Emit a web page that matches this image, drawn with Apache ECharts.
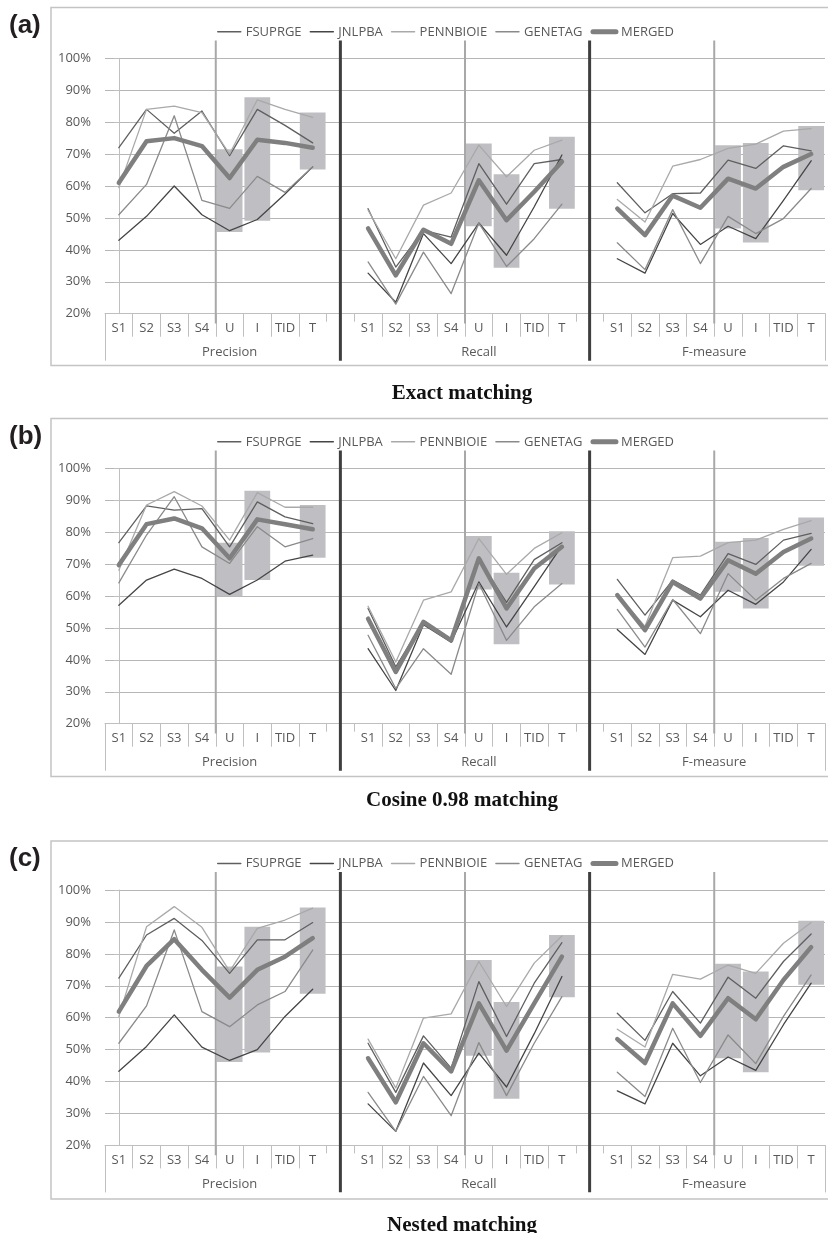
<!DOCTYPE html>
<html>
<head>
<meta charset="utf-8">
<script src="https://cdn.jsdelivr.net/npm/echarts@6/dist/echarts.min.js"></script>
<style>
  html, body { margin: 0; padding: 0; background: #fff; }
  #chart { width: 828px; height: 1233px; }
</style>
</head>
<body>
<div id="chart"></div>
<script>
// categories of one measure group, and the three groups
const subCats = ['S1', 'S2', 'S3', 'S4', 'U', 'I', 'TID', 'T'];
const groupNames = ['Precision', 'Recall', 'F-measure'];
const seriesNames = ['FSUPRGE', 'JNLPBA', 'PENNBIOIE', 'GENETAG', 'MERGED'];
const yTicks = [20, 30, 40, 50, 60, 70, 80, 90, 100];
// the grey range boxes sit on U, I and T of every group
const boxCats = ['U', 'I', 'T'];

// (a) exact matching: Precision(8) Recall(8) F-measure(8)
const exactFsuprge = [72, 84, 76.5, 83.5, 69.5, 84, 79, 73.5,  52.9, 34.6, 46.1, 44, 67, 54.3, 67, 68.3,  61, 51.6, 57.6, 57.8, 68.1, 65.5, 72.6, 71];
const exactJnlpba = [43, 50.5, 60, 51, 46, 49.5, 57.5, 66,  32.7, 23.6, 45.1, 35.7, 48.4, 38.3, 53.5, 69.7,  37.2, 32.7, 51.4, 41.7, 47.4, 43.5, 55.5, 67.9];
const exactPennbioie = [59.5, 84, 85, 83, 70, 87, 84, 81.5,  52.4, 37.2, 54, 57.8, 72.8, 62.9, 71.2, 74.4,  55.8, 48.7, 66.2, 68.3, 71.8, 73.1, 77.2, 78];
const exactGenetag = [51, 60.5, 82, 55.5, 53, 63, 58, 66,  36.2, 23, 39.3, 26.3, 48.4, 34.8, 43.5, 54.3,  42.2, 33.8, 52.6, 35.7, 50.5, 45.1, 49.8, 59.2];
const exactMerged = [61, 74, 75, 72.5, 62.5, 74.5, 73.5, 72,  46.7, 32, 46.3, 41.9, 61.8, 49.3, 58.2, 67.6,  52.9, 44.6, 57, 53.2, 62.3, 59.2, 66, 70];
const exactBoxLow = [45.6, 49.1, 65.2,  47.4, 34.4, 52.9,  46.7, 42.3, 58.7];
const exactBoxHigh = [71.5, 87.8, 83,  73.3, 63.7, 75.4,  72.8, 73.5, 78.8];

// (b) cosine 0.98 matching
const cosineFsuprge = [76.7, 88.2, 86.9, 87.4, 75.4, 89.5, 84.8, 82.7,  56.1, 37.8, 52, 46.5, 71.5, 58, 71.4, 76.7,  65.2, 54, 65, 60.3, 73.3, 69.9, 77.5, 79.6];
const cosineJnlpba = [57.1, 65, 68.4, 65.5, 60.5, 65, 70.9, 72.8,  43.5, 30.4, 51, 45.5, 64.4, 50.3, 62.9, 75.8,  49.5, 41.7, 58.7, 53.5, 61.8, 57.4, 64.4, 74.6];
const cosinePennbioie = [68.1, 88.5, 92.7, 88.2, 77.5, 92.4, 87.8, 87.8,  56.8, 39.3, 58.7, 61.3, 78, 66.8, 74.9, 79.8,  60.5, 50.5, 72, 72.5, 76.7, 77.5, 80.9, 83.6];
const cosineGenetag = [64.1, 79.1, 91.1, 75.4, 70.2, 81.7, 75.4, 78,  47.7, 31, 43.5, 35.5, 63.9, 46.1, 56.6, 63.9,  55.8, 44, 58.9, 48.2, 67, 58.7, 65.5, 70.2];
const cosineMerged = [69.7, 82.5, 84.3, 81.2, 71.8, 84, 82.5, 80.9,  52.9, 36.2, 51.9, 46.1, 71.8, 56.1, 68.6, 75.4,  60.3, 49.3, 64.4, 59.2, 71.2, 67, 73.8, 78];
const cosineBoxLow = [59.9, 65, 72,  62, 44.9, 63.6,  61.3, 56.1, 69.5];
const cosineBoxHigh = [76.7, 93, 88.5,  78.8, 67.3, 80.3,  77, 78.2, 84.6];

// (c) nested matching
const nestedFsuprge = [72.4, 85.9, 91.1, 84.2, 73.9, 84.4, 84.4, 89.8,  52, 36.6, 54.3, 44.2, 71.3, 54.1, 70.8, 83.5,  61.4, 52.9, 68.2, 58.3, 72.7, 66.1, 77.6, 86.2];
const nestedJnlpba = [43.2, 51, 60.9, 50.8, 46.6, 50, 60.4, 68.9,  33, 24.4, 45.8, 35.6, 48.9, 38.3, 55, 72.9,  37.1, 33, 52, 41.8, 47.7, 43.5, 57.8, 70.8];
const nestedPennbioie = [60.4, 88.5, 94.8, 88.3, 74.5, 88, 90.6, 94.3,  53.3, 38, 59.9, 61.2, 77.6, 63.5, 77.1, 85.6,  56.4, 50.8, 73.6, 72.1, 76.5, 73.9, 83.3, 89.8];
const nestedGenetag = [52, 63.7, 87.5, 61.9, 57.2, 64, 68.2, 81.2,  36.6, 24.4, 41.6, 29.3, 52.2, 35.6, 52, 66.6,  42.9, 35.3, 56.7, 39.7, 54.6, 45.6, 60.4, 73.4];
const nestedMerged = [61.9, 76.2, 84.6, 75, 66.3, 75, 79.1, 84.9,  47.3, 33.5, 52, 43.2, 64.5, 49.7, 64.5, 79.1,  53.3, 45.8, 64.5, 54.3, 66.1, 59.5, 71.8, 82.1];
const nestedBoxLow = [46.1, 49.1, 67.5,  48.1, 34.6, 66.4,  47.3, 42.9, 70.3];
const nestedBoxHigh = [76, 88.5, 94.5,  78.1, 64.9, 85.9,  76.9, 74.5, 90.4];

const panels = [
  { tag: 'a', caption: 'Exact matching', lines: [exactFsuprge, exactJnlpba, exactPennbioie, exactGenetag, exactMerged], low: exactBoxLow, high: exactBoxHigh },
  { tag: 'b', caption: 'Cosine 0.98 matching', lines: [cosineFsuprge, cosineJnlpba, cosinePennbioie, cosineGenetag, cosineMerged], low: cosineBoxLow, high: cosineBoxHigh },
  { tag: 'c', caption: 'Nested matching', lines: [nestedFsuprge, nestedJnlpba, nestedPennbioie, nestedGenetag, nestedMerged], low: nestedBoxLow, high: nestedBoxHigh }
];

// layout (pixels)
const gridTops = [58.3, 468.3, 890];
const gridH = 255.4;
const frameTops = [7.5, 418.5, 841];
const frameH = 358;
const captionY = [378, 785, 1210];
const FONT = '"Open Sans", "Noto Sans", sans-serif';
const FS = 13;
const TXT = '#595959';
const AXIS = '#bfbfbf';

const COLORS = ['#5f5f5f', '#454545', '#a9a9a9', '#8a8a8a', '#7f7f7f'];
const WIDTHS = [1.3, 1.3, 1.3, 1.3, 4.5];

// x axis: each group is followed by an empty slot (except the last one)
const xLabels = [];
const groupStart = [];
const gapIdx = [];
groupNames.forEach((g, gi) => {
  groupStart.push(xLabels.length);
  subCats.forEach(c => xLabels.push(c));
  if (gi < groupNames.length - 1) { gapIdx.push(xLabels.length); xLabels.push(''); }
});
const groupCenter = groupNames.map((g, gi) => {
  const end = gi < groupNames.length - 1 ? groupStart[gi + 1] - 1 : xLabels.length - 1;
  return (groupStart[gi] + end) / 2;
});
// ticks next to the gap slots are short
const shortTickIdx = [];
gapIdx.forEach(i => shortTickIdx.push(i, i + 1));

function withGaps(vals) {
  const out = [];
  groupNames.forEach((g, gi) => {
    vals.slice(gi * subCats.length, (gi + 1) * subCats.length).forEach(v => out.push(v));
    if (gi < groupNames.length - 1) out.push(null);
  });
  return out;
}
function boxData(arr) {
  const out = xLabels.map(() => '-');
  groupNames.forEach((g, gi) => {
    boxCats.forEach((c, ci) => {
      out[groupStart[gi] + subCats.indexOf(c)] = arr[gi * boxCats.length + ci];
    });
  });
  return out;
}
function boxSpan(low, high) {
  return boxData(high.map((h, i) => +(h - low[i]).toFixed(2)));
}

const grids = [], xAxes = [], yAxes = [], series = [], legends = [], titles = [], graphics = [];

panels.forEach((p, g) => {
  grids.push({ left: 105, right: 2, top: gridTops[g], height: gridH });
  const base = xAxes.length;
  // main category axis with labels and long ticks
  xAxes.push({
    gridIndex: g, type: 'category', data: xLabels, boundaryGap: true, position: 'bottom',
    axisLine: { show: true, lineStyle: { color: AXIS, width: 1 } },
    axisTick: { show: true, length: 23, interval: (i) => !shortTickIdx.includes(i), lineStyle: { color: AXIS } },
    axisLabel: { interval: 0, margin: 8, color: TXT, fontSize: FS, fontFamily: FONT },
    splitLine: { show: false }
  });
  // short ticks beside the empty slots
  xAxes.push({
    gridIndex: g, type: 'category', data: xLabels, boundaryGap: true, position: 'bottom',
    axisLine: { show: false },
    axisTick: { show: true, length: 8, interval: (i) => shortTickIdx.includes(i), lineStyle: { color: AXIS } },
    axisLabel: { show: false }, splitLine: { show: false }
  });
  // outer frame of the two-level axis
  xAxes.push({
    gridIndex: g, type: 'category', data: xLabels, boundaryGap: true, position: 'bottom',
    axisLine: { show: false },
    axisTick: { show: true, length: 47, interval: (i) => i === 0, lineStyle: { color: AXIS } },
    axisLabel: { show: false }, splitLine: { show: false }
  });
  // value axis over the same band: group labels and separator lines
  xAxes.push({
    gridIndex: g, type: 'value', min: -0.5, max: xLabels.length - 0.5, interval: 0.5, position: 'bottom',
    axisLine: { show: false }, axisTick: { show: false }, splitLine: { show: false },
    axisLabel: {
      margin: 32, color: TXT, fontSize: FS, fontFamily: FONT, showMinLabel: true, showMaxLabel: true,
      formatter: (v) => {
        const k = groupCenter.findIndex(c => Math.abs(c - v) < 1e-6);
        return k >= 0 ? groupNames[k] : '';
      }
    }
  });
  yAxes.push({
    gridIndex: g, type: 'value', min: yTicks[0], max: yTicks[yTicks.length - 1], interval: yTicks[1] - yTicks[0],
    axisLine: { show: true, lineStyle: { color: AXIS } },
    axisTick: { show: true, length: 5, lineStyle: { color: AXIS } },
    axisLabel: { formatter: '{value}%', margin: 14, color: TXT, fontSize: FS, fontFamily: FONT },
    splitLine: { show: true, lineStyle: { color: '#b6b6b6', width: 1 } }
  });

  // grey range boxes
  series.push({
    type: 'bar', xAxisIndex: base, yAxisIndex: g, stack: 'box' + g, barWidth: '93%', silent: true,
    itemStyle: { color: 'transparent' }, data: boxData(p.low), z: 1
  });
  series.push({
    type: 'bar', xAxisIndex: base, yAxisIndex: g, stack: 'box' + g, barWidth: '93%', silent: true,
    itemStyle: { color: '#bfbfc3' }, data: boxSpan(p.low, p.high), z: 1
  });

  // separators: dark lines through the empty slots, light lines before U
  gapIdx.forEach(x => {
    series.push({
      type: 'line', xAxisIndex: base + 3, yAxisIndex: g, clip: false, symbol: 'none', silent: true, z: 2,
      lineStyle: { color: '#3f3f3f', width: 3 }, data: [[x, 105.6], [x, 5.3]]
    });
  });
  groupStart.forEach(s => {
    const x = s + subCats.indexOf('U') - 0.5;
    series.push({
      type: 'line', xAxisIndex: base + 3, yAxisIndex: g, clip: false, symbol: 'none', silent: true, z: 2,
      lineStyle: { color: '#a8a8a8', width: 2 }, data: [[x, 105.6], [x, 16.9]]
    });
  });

  p.lines.forEach((vals, k) => {
    series.push({
      name: seriesNames[k], type: 'line', xAxisIndex: base, yAxisIndex: g,
      symbol: 'none', connectNulls: false, z: 3 + (k === 4 ? 1 : 0),
      lineStyle: { color: COLORS[k], width: WIDTHS[k], cap: 'round', join: 'round' },
      itemStyle: { color: COLORS[k] },
      data: withGaps(vals)
    });
  });

  legends.push({
    top: gridTops[g] - 38, left: 212, itemWidth: 23, itemHeight: 14, itemGap: 8,
    itemStyle: { opacity: 0 },
    textStyle: { color: TXT, fontSize: FS, fontFamily: FONT },
    data: seriesNames.map((n, k) => ({ name: n, lineStyle: { width: k === 4 ? 5 : 1.5, color: COLORS[k] } }))
  });

  titles.push({
    text: '{p|(}{b|' + p.tag + '}{p|)}', left: 4, top: frameTops[g],
    textStyle: { rich: {
      p: { fontSize: 26, fontFamily: '"Liberation Sans", Arial, sans-serif', color: '#231f20' },
      b: { fontSize: 26, fontWeight: 'bold', fontFamily: '"Liberation Sans", Arial, sans-serif', color: '#231f20' }
    } }
  });
  titles.push({
    text: p.caption, left: 457, top: captionY[g], textAlign: 'center',
    textStyle: { fontSize: 21, fontWeight: 'bold', fontFamily: '"Liberation Serif", "Times New Roman", serif', color: '#111' }
  });
  graphics.push({
    type: 'rect', silent: true, z: -1,
    shape: { x: 51, y: frameTops[g], width: 800, height: frameH },
    style: { fill: null, stroke: '#c4c4c4', lineWidth: 1.5 }
  });
});

const chart = echarts.init(document.getElementById('chart'), null, { renderer: 'canvas' });
chart.setOption({
  animation: false,
  backgroundColor: '#fff',
  title: titles,
  legend: legends,
  grid: grids,
  xAxis: xAxes,
  yAxis: yAxes,
  graphic: graphics,
  series: series
});
</script>
</body>
</html>
